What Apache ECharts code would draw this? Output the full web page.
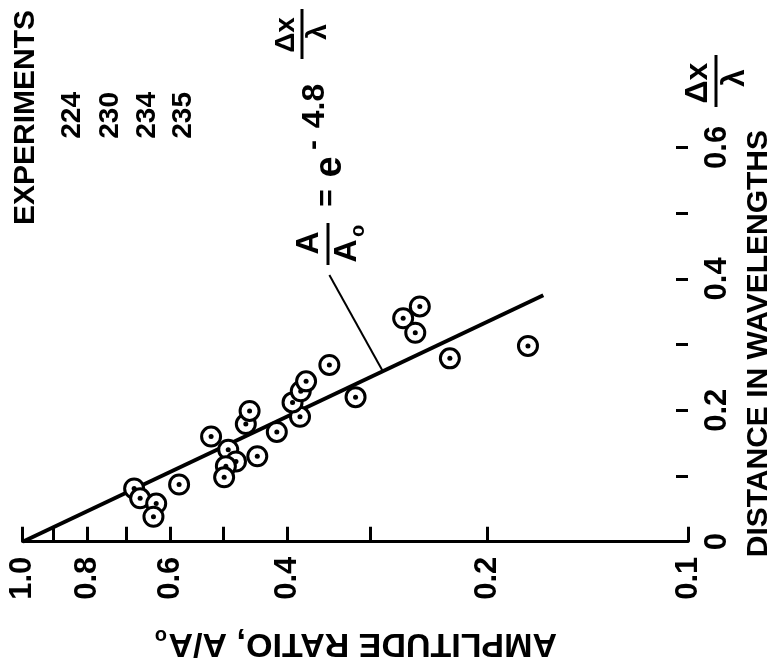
<!DOCTYPE html>
<html>
<head>
<meta charset="utf-8">
<script src="https://cdn.jsdelivr.net/npm/echarts@6/dist/echarts.min.js"></script>
<style>
html,body{margin:0;padding:0;background:#fff;}
#chart{width:773px;height:665px;}
</style>
</head>
<body>
<div id="chart"></div>
<script>
// ---- data ----
const ampRatio = [0.680, 0.666, 0.630, 0.636, 0.582, 0.521, 0.491, 0.478, 0.495, 0.498,
                  0.444, 0.415, 0.462, 0.456, 0.383, 0.393, 0.382, 0.375, 0.346, 0.316,
                  0.253, 0.268, 0.257, 0.228, 0.174];
const distance = [0.081, 0.066, 0.058, 0.038, 0.087, 0.160, 0.140, 0.122, 0.115, 0.098,
                  0.130, 0.167, 0.179, 0.199, 0.190, 0.212, 0.229, 0.244, 0.269, 0.220,
                  0.358, 0.340, 0.318, 0.279, 0.298];
// fitted line A/Ao = e^(-4.8 dx/lambda), end points
const fitAmp = [1.0, 0.165];
const fitDist = [0.0, 0.375];
// leader line from the equation to the fitted line
const leaderAmp = [0.287, 0.346];
const leaderDist = [0.258, 0.406];
// ticks and labels
const ampTicks = [1.0, 0.9, 0.8, 0.7, 0.6, 0.5, 0.4, 0.3, 0.2, 0.1];
const ampLabels = [1.0, 0.8, 0.6, 0.4, 0.2, 0.1];
const distTicks = [0.1, 0.2, 0.3, 0.4, 0.5, 0.6];
const distLabels = [0, 0.2, 0.4, 0.6];
const legendTitle = 'EXPERIMENTS';
const experiments = ['224', '230', '234', '235'];

const pts = ampRatio.map((a, i) => [a, distance[i]]);
const fitPts = fitAmp.map((a, i) => [a, fitDist[i]]);
const leaderPts = leaderAmp.map((a, i) => [a, leaderDist[i]]);

const FF = '"Liberation Sans", Arial, Helvetica, sans-serif';
const R90 = Math.PI / 2;
function txt(x, y, text, size, rot, align, extra) {
  return Object.assign({
    type: 'text', x: x, y: y, rotation: rot,
    style: {
      text: text, font: 'bold ' + size + 'px ' + FF, fill: '#000',
      align: align || 'center', verticalAlign: 'middle',
      textAlign: align || 'center', textVerticalAlign: 'middle'
    }
  }, extra || {});
}
function bar(x, y1, y2, w) {
  return { type: 'line', shape: { x1: x, y1: y1, x2: x, y2: y2 }, style: { stroke: '#000', lineWidth: w || 3 } };
}

const graphics = [
  // legend
  txt(26, 10, legendTitle, 30, R90, 'right'),
  txt(72, 92, experiments[0], 28, R90, 'right'),
  txt(110, 92, experiments[1], 28, R90, 'right'),
  txt(147, 92, experiments[2], 28, R90, 'right'),
  txt(183, 92, experiments[3], 28, R90, 'right'),
  // equation A/Ao = e^(-4.8 dx/lambda)
  txt(309, 243, 'A', 32, R90),
  bar(328, 223, 265, 3),
  txt(347, 251, 'A', 32, R90),
  txt(358, 231, 'o', 20, R90),
  txt(328, 198, '=', 30, R90),
  txt(331, 167, 'e', 38, R90),
  txt(314, 145, '-', 30, R90),
  txt(315, 106, '4.8', 32, R90),
  txt(286, 35, 'Δx', 28, R90),
  bar(302, 9, 59, 3),
  txt(318, 32, 'λ', 28, R90),
  // x (distance) axis name
  txt(698, 83, 'Δx', 32, R90),
  bar(716, 55, 107, 3),
  txt(735, 78, 'λ', 32, R90),
  txt(759, 130, 'DISTANCE IN WAVELENGTHS', 30, R90, 'right'),
  // amplitude axis name (upside down)
  txt(557, 643, 'AMPLITUDE RATIO, A/A', 34, Math.PI, 'left'),
  txt(161, 636, 'o', 20, Math.PI)
];

const chart = echarts.init(document.getElementById('chart'), null, { renderer: 'canvas' });
chart.setOption({
  animation: false,
  backgroundColor: '#fff',
  grid: { left: 22.7, right: 85, top: 16, bottom: 123.3, containLabel: false },
  xAxis: {
    type: 'log', logBase: 10, min: 0.1, max: 1, inverse: true, position: 'bottom',
    axisLine: { show: true, lineStyle: { color: '#000', width: 3 } },
    axisTick: { show: true, inside: true, length: 15, customValues: ampTicks, lineStyle: { color: '#000', width: 3 } },
    minorTick: { show: false },
    axisLabel: {
      rotate: 90, customValues: ampLabels, margin: 15,
      formatter: function (v) { return Number(v).toFixed(1); },
      fontSize: 31, fontWeight: 'bold', fontFamily: FF, color: '#000'
    },
    splitLine: { show: false }
  },
  yAxis: {
    type: 'value', min: 0, max: 0.8, position: 'right',
    axisLine: { show: false },
    axisTick: { show: true, inside: true, length: 12, customValues: distTicks, lineStyle: { color: '#000', width: 3 } },
    axisLabel: {
      rotate: 90, customValues: distLabels, margin: 14,
      formatter: function (v) { return v === 0 ? '0' : Number(v).toFixed(1); },
      fontSize: 31, fontWeight: 'bold', fontFamily: FF, color: '#000'
    },
    splitLine: { show: false }
  },
  series: [
    { type: 'line', data: fitPts, showSymbol: false, symbol: 'none', lineStyle: { color: '#000', width: 4 }, z: 2, silent: true },
    { type: 'line', data: leaderPts, showSymbol: false, symbol: 'none', lineStyle: { color: '#000', width: 2 }, z: 2, silent: true },
    { type: 'scatter', data: pts, symbol: 'circle', symbolSize: 19,
      itemStyle: { color: '#fff', borderColor: '#000', borderWidth: 3, opacity: 1 }, z: 3 },
    { type: 'scatter', data: pts, symbol: 'circle', symbolSize: 5,
      itemStyle: { color: '#000', opacity: 1 }, z: 4 }
  ],
  graphic: graphics
});
</script>
</body>
</html>
